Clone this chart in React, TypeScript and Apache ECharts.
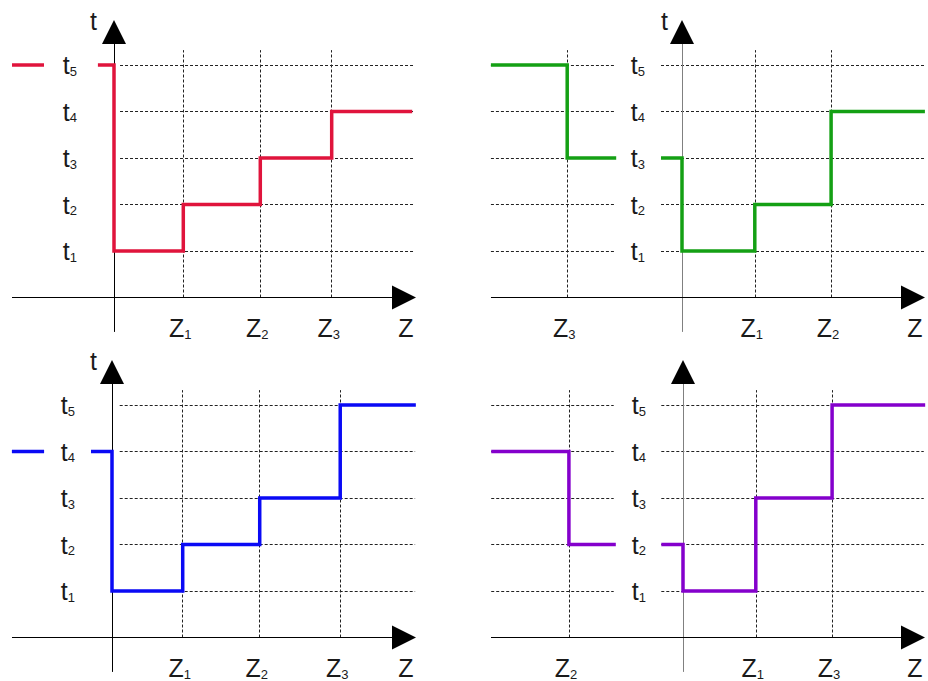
import React, { useEffect, useRef } from "react";
import * as echarts from "echarts";

// ---- data ----
const tValues = [1, 2, 3, 4, 5];
const tSubs = ["1", "2", "3", "4", "5"];

// panel 1 (red)
const redZValues = [0.99, 2.09, 3.11];
const redZSubs = ["1", "2", "3"];
const redLeft = [[-1.457, 5], [-1.0, 5]];
const redRight = [[-0.23, 5], [0, 1], [0.99, 2], [2.09, 3], [3.11, 4], [4.26, 4]];

// panel 2 (green)
const greenZNeg = [-1.64];
const greenZNegSubs = ["3"];
const greenZValues = [1.04, 2.13];
const greenZSubs = ["1", "2"];
const greenLeft = [[-2.73, 5], [-1.64, 3], [-0.94, 3]];
const greenRight = [[-0.3, 3], [0, 1], [1.04, 2], [2.13, 4], [3.47, 4]];

// panel 3 (blue)
const blueZValues = [1.01, 2.11, 3.26];
const blueZSubs = ["1", "2", "3"];
const blueLeft = [[-1.43, 4], [-0.97, 4]];
const blueRight = [[-0.3, 4], [0, 1], [1.01, 2], [2.11, 3], [3.26, 5], [4.34, 5]];

// panel 4 (purple)
const purpleZNeg = [-1.63];
const purpleZNegSubs = ["2"];
const purpleZValues = [1.04, 2.13];
const purpleZSubs = ["1", "3"];
const purpleLeft = [[-2.74, 4], [-1.63, 2], [-0.96, 2]];
const purpleRight = [[-0.31, 2], [0, 1], [1.04, 3], [2.13, 5], [3.46, 5]];

// ---- layout / style ----
const FONT = "'Liberation Sans', Arial, Helvetica, sans-serif";
const TEXT = "#1a1a1a";
const GRID_COLOR = "#222";
const Y_MIN = -0.74;
const Y_MAX = 5.71;
const V_GRID_TOP = 5.32;
const PLOT_H = 265.5;

const rich = {
  a: { fontSize: 25, lineHeight: 25, fontFamily: FONT, color: TEXT },
  b: { fontSize: 13, lineHeight: 13, fontFamily: FONT, color: TEXT, verticalAlign: "bottom" },
};

type Sys = {
  left: number; top: number; width: number; xMin: number; xMax: number;
  zValues: number[]; zSubs: string[]; main: boolean; tName: boolean; tPad: number;
};

type Panel = {
  color: string; yAxisColor: string; axisXMin: number;
  main: Sys; neg?: Sys;
  segL: number[][]; segR: number[][];
  hGridMain: number[]; hGridNeg?: number[];
  zMain: number[]; zNeg?: number[];
};

const panels: Panel[] = [
  {
    color: "#e0143c", yAxisColor: "#000", axisXMin: -1.457,
    main: { left: 114, top: 32, width: 290, xMin: 0, xMax: 4.143, zValues: redZValues, zSubs: redZSubs, main: true, tName: true, tPad: 17 },
    segL: redLeft, segR: redRight,
    hGridMain: [0.086, 4.29], zMain: redZValues,
  },
  {
    color: "#14a014", yAxisColor: "#808080", axisXMin: -2.729,
    main: { left: 682, top: 32, width: 231, xMin: 0, xMax: 3.3, zValues: greenZValues, zSubs: greenZSubs, main: true, tName: true, tPad: 14 },
    neg: { left: 491, top: 32, width: 191, xMin: -2.729, xMax: 0, zValues: greenZNeg, zSubs: greenZNegSubs, main: false, tName: false, tPad: 0 },
    segL: greenLeft, segR: greenRight,
    hGridMain: [-0.3, 3.46], hGridNeg: [-2.73, -0.97], zMain: greenZValues, zNeg: greenZNeg,
  },
  {
    color: "#0a0af5", yAxisColor: "#000", axisXMin: -1.4286,
    main: { left: 112, top: 372, width: 292, xMin: 0, xMax: 4.171, zValues: blueZValues, zSubs: blueZSubs, main: true, tName: true, tPad: 15 },
    segL: blueLeft, segR: blueRight,
    hGridMain: [0.11, 4.33], zMain: blueZValues,
  },
  {
    color: "#8400cc", yAxisColor: "#808080", axisXMin: -2.743,
    main: { left: 683, top: 372, width: 230, xMin: 0, xMax: 3.286, zValues: purpleZValues, zSubs: purpleZSubs, main: true, tName: false, tPad: 14 },
    neg: { left: 491, top: 372, width: 192, xMin: -2.743, xMax: 0, zValues: purpleZNeg, zSubs: purpleZNegSubs, main: false, tName: false, tPad: 0 },
    segL: purpleLeft, segR: purpleRight,
    hGridMain: [-0.31, 3.44], hGridNeg: [-2.74, -0.99], zMain: purpleZValues, zNeg: purpleZNeg,
  },
];

// step ("end") points -> polyline corners
function stepCorners(pts: number[][]): number[][] {
  const out: number[][] = [pts[0]];
  for (let i = 1; i < pts.length; i++) {
    const prev = out[out.length - 1];
    const corner = [pts[i][0], pts[i - 1][1]];
    if (corner[0] !== prev[0] || corner[1] !== prev[1]) out.push(corner);
    if (pts[i][1] !== corner[1]) out.push(pts[i]);
  }
  return out;
}

function buildOption() {
  const grid: any[] = [];
  const xAxis: any[] = [];
  const yAxis: any[] = [];
  const series: any[] = [];

  const addSys = (s: Sys) => {
    const idx = grid.length;
    grid.push({ left: s.left, top: s.top, width: s.width, height: PLOT_H, containLabel: false, outerBoundsMode: "none" });
    xAxis.push({
      gridIndex: idx,
      type: "value",
      min: s.xMin,
      max: s.xMax,
      axisLine: { show: false },
      axisTick: { show: false },
      splitLine: { show: false },
      axisLabel: {
        customValues: s.zValues,
        margin: 18,
        padding: [0, 6, 0, 0],
        formatter: (v: number) => {
          const k = s.zValues.indexOf(v);
          return `{a|Z}{b|${k >= 0 ? s.zSubs[k] : ""}}`;
        },
        rich,
      },
      name: s.main ? "Z" : "",
      nameLocation: "end",
      nameGap: 2,
      nameTextStyle: {
        align: "center",
        verticalAlign: "top",
        padding: [18, 0, 0, 0],
        fontSize: 25,
        lineHeight: 25,
        fontFamily: FONT,
        color: TEXT,
      },
    });
    yAxis.push({
      gridIndex: idx,
      type: "value",
      min: 0,
      max: Y_MAX,
      axisLine: { show: false },
      axisTick: { show: false },
      splitLine: { show: false },
      axisLabel: {
        show: s.main,
        customValues: tValues,
        margin: 37,
        formatter: (v: number) => {
          const k = tValues.indexOf(v);
          return `{a|t}{b|${k >= 0 ? tSubs[k] : ""}}`;
        },
        rich,
      },
      name: s.tName ? "t" : "",
      nameLocation: "end",
      nameGap: 11,
      nameTextStyle: {
        align: "right",
        verticalAlign: "middle",
        padding: [0, s.tPad, 0, 0],
        fontSize: 25,
        lineHeight: 25,
        fontFamily: FONT,
        color: TEXT,
      },
    });
    return idx;
  };

  const gridLines = (idx: number, hx: number[], zs: number[]) => {
    const data: any[] = [];
    tValues.forEach((t) => data.push({ coords: [[hx[0], t], [hx[1], t]] }));
    zs.forEach((z) => data.push({ coords: [[z, 0], [z, V_GRID_TOP]] }));
    series.push({
      type: "lines",
      coordinateSystem: "cartesian2d",
      xAxisIndex: idx,
      yAxisIndex: idx,
      silent: true,
      clip: false,
      z: 1,
      symbol: ["none", "none"],
      lineStyle: { color: GRID_COLOR, width: 1, type: [3, 2], opacity: 1 },
      data,
    });
  };

  const stepLine = (idx: number, seg: number[][], color: string) => {
    series.push({
      type: "lines",
      coordinateSystem: "cartesian2d",
      polyline: true,
      xAxisIndex: idx,
      yAxisIndex: idx,
      silent: true,
      clip: false,
      z: 4,
      symbol: ["none", "none"],
      lineStyle: { color, width: 3.5, opacity: 1, join: "miter", cap: "butt" },
      data: [{ coords: stepCorners(seg) }],
    });
  };

  panels.forEach((p) => {
    const mi = addSys(p.main);
    let ni = mi;
    if (p.neg) ni = addSys(p.neg);

    // axes (drawn through the main coordinate system)
    series.push({
      type: "lines",
      coordinateSystem: "cartesian2d",
      xAxisIndex: mi,
      yAxisIndex: mi,
      silent: true,
      clip: false,
      z: 2,
      symbol: ["none", "none"],
      lineStyle: { color: p.yAxisColor, width: 1, opacity: 1 },
      data: [{ coords: [[0, Y_MIN], [0, Y_MAX]] }],
    });
    series.push({
      type: "lines",
      coordinateSystem: "cartesian2d",
      xAxisIndex: mi,
      yAxisIndex: mi,
      silent: true,
      clip: false,
      z: 3,
      symbol: ["none", "triangle"],
      symbolSize: [12, 24],
      lineStyle: { color: "#000", width: 1, opacity: 1 },
      data: [
        { coords: [[p.axisXMin, 0], [p.main.xMax, 0]] },
        { coords: [[0, Y_MAX - 0.05], [0, Y_MAX]] },
      ],
    });

    gridLines(mi, p.hGridMain, p.zMain);
    if (p.neg && p.hGridNeg && p.zNeg) gridLines(ni, p.hGridNeg, p.zNeg);

    stepLine(mi, p.segL, p.color);
    stepLine(mi, p.segR, p.color);
  });

  return { animation: false, grid, xAxis, yAxis, series };
}

export default function App() {
  const ref = useRef<HTMLDivElement>(null);
  useEffect(() => {
    if (!ref.current) return;
    const chart = echarts.init(ref.current, undefined, { renderer: "svg" });
    chart.setOption(buildOption() as any);
    return () => chart.dispose();
  }, []);
  return (
    <div
      ref={ref}
      style={{ position: "absolute", left: 0, top: 0, width: 928, height: 681, background: "#fff" }}
    />
  );
}
